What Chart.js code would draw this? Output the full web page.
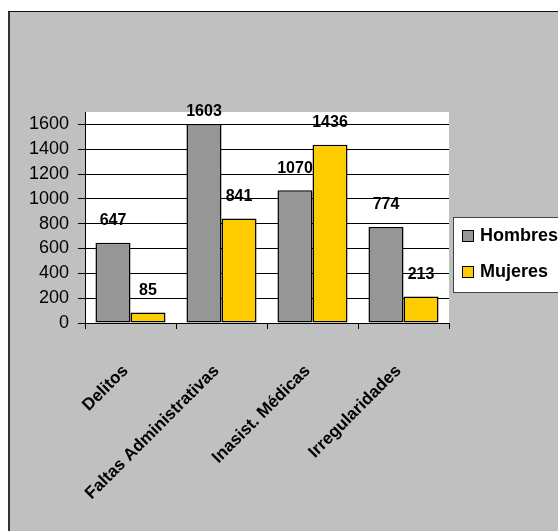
<!DOCTYPE html>
<html>
<head>
<meta charset="utf-8">
<script src="https://cdn.jsdelivr.net/npm/chart.js@4"></script>
<style>
  body { margin: 0; background: #fff; }
  #marco {
    position: absolute; left: 8px; top: 11px; width: 600px; height: 600px;
    background: #c0c0c0; border-left: 2px solid #333; border-top: 1px solid #111;
  }
  #grafico { position: absolute; left: 0; top: 0; }
</style>
</head>
<body>
<div id="marco"></div>
<canvas id="grafico" width="558" height="531"></canvas>
<script>
const categorias = ["Delitos", "Faltas Administrativas", "Inasist. Médicas", "Irregularidades"];
const hombres = [647, 1603, 1070, 774];
const mujeres = [85, 841, 1436, 213];
const ticksY = [0, 200, 400, 600, 800, 1000, 1200, 1400, 1600];

const fuente = "'Liberation Sans', Arial, sans-serif";

// fondo blanco del area de trazado
const fondoPlot = {
  id: "fondoPlot",
  beforeDraw(chart) {
    const { ctx, chartArea: a } = chart;
    ctx.save();
    ctx.fillStyle = "#fff";
    ctx.fillRect(a.left, a.top, a.right - a.left, a.bottom - a.top);
    ctx.restore();
  },
};

// valores encima de cada barra
const etiquetas = {
  id: "etiquetas",
  afterDatasetsDraw(chart) {
    const ctx = chart.ctx;
    ctx.save();
    ctx.font = "bold 16px " + fuente;
    ctx.fillStyle = "#000";
    ctx.textAlign = "center";
    ctx.textBaseline = "middle";
    chart.data.datasets.forEach((ds, i) => {
      chart.getDatasetMeta(i).data.forEach((bar, j) => {
        let y = Math.max(bar.y - 22, chart.chartArea.top);
        ctx.fillText(ds.data[j], bar.x, y);
      });
    });
    ctx.restore();
  },
};

// leyenda con recuadro a la derecha
const leyenda = {
  id: "leyenda",
  afterDraw(chart) {
    const ctx = chart.ctx;
    const x = chart.chartArea.right + 4;
    const y = 217;
    ctx.save();
    ctx.fillStyle = "#fff";
    ctx.fillRect(x, y, 200, 75);
    ctx.strokeStyle = "#444";
    ctx.lineWidth = 1;
    ctx.strokeRect(x + 0.5, y + 0.5, 200, 75);
    ctx.font = "bold 18px " + fuente;
    ctx.textBaseline = "middle";
    chart.data.datasets.forEach((ds, i) => {
      const cy = y + 19 + i * 36;
      ctx.fillStyle = ds.backgroundColor;
      ctx.fillRect(x + 9, cy - 6, 12, 12);
      ctx.strokeStyle = "#000";
      ctx.strokeRect(x + 9.5, cy - 5.5, 11, 11);
      ctx.fillStyle = "#000";
      ctx.fillText(ds.label, x + 27, cy);
    });
    ctx.restore();
  },
};

new Chart(document.getElementById("grafico"), {
  type: "bar",
  data: {
    labels: categorias,
    datasets: [
      {
        label: "Hombres",
        data: hombres,
        backgroundColor: "#969696",
        borderColor: "#000",
        borderWidth: 1.5,
        borderSkipped: false,
      },
      {
        label: "Mujeres",
        data: mujeres,
        backgroundColor: "#ffcc00",
        borderColor: "#000",
        borderWidth: 1.5,
        borderSkipped: false,
      },
    ],
  },
  options: {
    responsive: false,
    animation: false,
    layout: { padding: { left: 0, top: 112, right: 109, bottom: 0 } },
    categoryPercentage: 0.77,
    barPercentage: 1,
    plugins: { legend: { display: false }, tooltip: { enabled: false } },
    scales: {
      x: {
        grid: { drawOnChartArea: false, offset: true, color: "#000", tickLength: 6 },
        border: { color: "#000" },
        ticks: {
          color: "#000",
          font: { family: fuente, size: 17, weight: "bold" },
          minRotation: 45,
          maxRotation: 45,
          autoSkip: false,
          padding: 32,
          labelOffset: -5,
        },
        afterFit: (s) => { s.height = 531 - 323; },
      },
      y: {
        min: 0,
        max: 1700,
        afterBuildTicks: (s) => { s.ticks = ticksY.map((v) => ({ value: v })); },
        grid: { color: "#000", tickLength: 7 },
        border: { color: "#000" },
        ticks: {
          color: "#000",
          font: { family: fuente, size: 18 },
          padding: 9,
          callback: (v) => String(v),
        },
        afterFit: (s) => { s.width = 85; },
      },
    },
  },
  plugins: [fondoPlot, etiquetas, leyenda],
});
</script>
</body>
</html>
